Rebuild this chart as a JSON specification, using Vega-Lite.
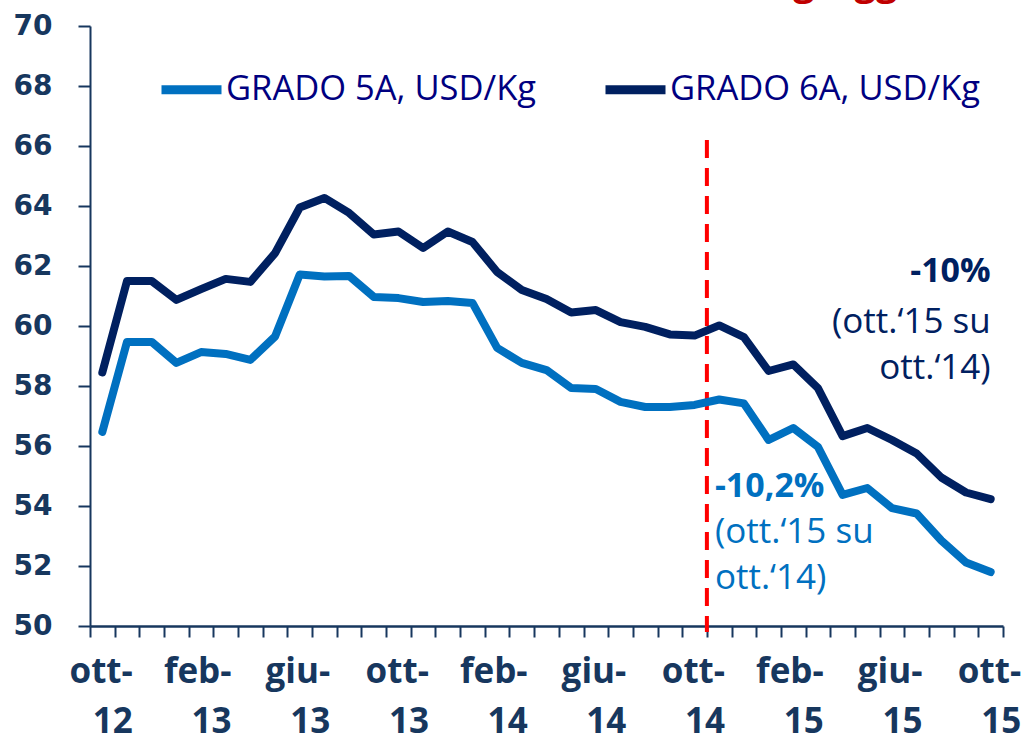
{
  "$schema": "https://vega.github.io/schema/vega-lite/v6.json",
  "width": 913,
  "height": 600,
  "autosize": {"type": "none"},
  "padding": {"left": 90, "top": 26, "right": 23, "bottom": 116},
  "background": "white",
  "config": {"view": {"stroke": null}},
  "datasets": {
    "prices": [
      {"m": "ott-12", "s": "GRADO 5A, USD/Kg", "v": 56.47},
      {"m": "nov-12", "s": "GRADO 5A, USD/Kg", "v": 59.47},
      {"m": "dic-12", "s": "GRADO 5A, USD/Kg", "v": 59.47},
      {"m": "gen-13", "s": "GRADO 5A, USD/Kg", "v": 58.77},
      {"m": "feb-13", "s": "GRADO 5A, USD/Kg", "v": 59.13},
      {"m": "mar-13", "s": "GRADO 5A, USD/Kg", "v": 59.07},
      {"m": "apr-13", "s": "GRADO 5A, USD/Kg", "v": 58.87},
      {"m": "mag-13", "s": "GRADO 5A, USD/Kg", "v": 59.65},
      {"m": "giu-13", "s": "GRADO 5A, USD/Kg", "v": 61.72},
      {"m": "lug-13", "s": "GRADO 5A, USD/Kg", "v": 61.65},
      {"m": "ago-13", "s": "GRADO 5A, USD/Kg", "v": 61.67},
      {"m": "set-13", "s": "GRADO 5A, USD/Kg", "v": 60.97},
      {"m": "ott-13", "s": "GRADO 5A, USD/Kg", "v": 60.93},
      {"m": "nov-13", "s": "GRADO 5A, USD/Kg", "v": 60.8},
      {"m": "dic-13", "s": "GRADO 5A, USD/Kg", "v": 60.83},
      {"m": "gen-14", "s": "GRADO 5A, USD/Kg", "v": 60.77},
      {"m": "feb-14", "s": "GRADO 5A, USD/Kg", "v": 59.27},
      {"m": "mar-14", "s": "GRADO 5A, USD/Kg", "v": 58.77},
      {"m": "apr-14", "s": "GRADO 5A, USD/Kg", "v": 58.53},
      {"m": "mag-14", "s": "GRADO 5A, USD/Kg", "v": 57.93},
      {"m": "giu-14", "s": "GRADO 5A, USD/Kg", "v": 57.9},
      {"m": "lug-14", "s": "GRADO 5A, USD/Kg", "v": 57.47},
      {"m": "ago-14", "s": "GRADO 5A, USD/Kg", "v": 57.3},
      {"m": "set-14", "s": "GRADO 5A, USD/Kg", "v": 57.3},
      {"m": "ott-14", "s": "GRADO 5A, USD/Kg", "v": 57.37},
      {"m": "nov-14", "s": "GRADO 5A, USD/Kg", "v": 57.55},
      {"m": "dic-14", "s": "GRADO 5A, USD/Kg", "v": 57.42},
      {"m": "gen-15", "s": "GRADO 5A, USD/Kg", "v": 56.2},
      {"m": "feb-15", "s": "GRADO 5A, USD/Kg", "v": 56.6},
      {"m": "mar-15", "s": "GRADO 5A, USD/Kg", "v": 55.97},
      {"m": "apr-15", "s": "GRADO 5A, USD/Kg", "v": 54.37},
      {"m": "mag-15", "s": "GRADO 5A, USD/Kg", "v": 54.6},
      {"m": "giu-15", "s": "GRADO 5A, USD/Kg", "v": 53.93},
      {"m": "lug-15", "s": "GRADO 5A, USD/Kg", "v": 53.75},
      {"m": "ago-15", "s": "GRADO 5A, USD/Kg", "v": 52.85},
      {"m": "set-15", "s": "GRADO 5A, USD/Kg", "v": 52.12},
      {"m": "ott-15", "s": "GRADO 5A, USD/Kg", "v": 51.8},
      {"m": "ott-12", "s": "GRADO 6A, USD/Kg", "v": 58.45},
      {"m": "nov-12", "s": "GRADO 6A, USD/Kg", "v": 61.5},
      {"m": "dic-12", "s": "GRADO 6A, USD/Kg", "v": 61.5},
      {"m": "gen-13", "s": "GRADO 6A, USD/Kg", "v": 60.87},
      {"m": "feb-13", "s": "GRADO 6A, USD/Kg", "v": 61.23},
      {"m": "mar-13", "s": "GRADO 6A, USD/Kg", "v": 61.57},
      {"m": "apr-13", "s": "GRADO 6A, USD/Kg", "v": 61.47},
      {"m": "mag-13", "s": "GRADO 6A, USD/Kg", "v": 62.43},
      {"m": "giu-13", "s": "GRADO 6A, USD/Kg", "v": 63.95},
      {"m": "lug-13", "s": "GRADO 6A, USD/Kg", "v": 64.27},
      {"m": "ago-13", "s": "GRADO 6A, USD/Kg", "v": 63.77},
      {"m": "set-13", "s": "GRADO 6A, USD/Kg", "v": 63.05},
      {"m": "ott-13", "s": "GRADO 6A, USD/Kg", "v": 63.15},
      {"m": "nov-13", "s": "GRADO 6A, USD/Kg", "v": 62.6},
      {"m": "dic-13", "s": "GRADO 6A, USD/Kg", "v": 63.15},
      {"m": "gen-14", "s": "GRADO 6A, USD/Kg", "v": 62.8},
      {"m": "feb-14", "s": "GRADO 6A, USD/Kg", "v": 61.8},
      {"m": "mar-14", "s": "GRADO 6A, USD/Kg", "v": 61.2},
      {"m": "apr-14", "s": "GRADO 6A, USD/Kg", "v": 60.9},
      {"m": "mag-14", "s": "GRADO 6A, USD/Kg", "v": 60.45},
      {"m": "giu-14", "s": "GRADO 6A, USD/Kg", "v": 60.53},
      {"m": "lug-14", "s": "GRADO 6A, USD/Kg", "v": 60.13},
      {"m": "ago-14", "s": "GRADO 6A, USD/Kg", "v": 59.97},
      {"m": "set-14", "s": "GRADO 6A, USD/Kg", "v": 59.72},
      {"m": "ott-14", "s": "GRADO 6A, USD/Kg", "v": 59.68},
      {"m": "nov-14", "s": "GRADO 6A, USD/Kg", "v": 60.02},
      {"m": "dic-14", "s": "GRADO 6A, USD/Kg", "v": 59.63},
      {"m": "gen-15", "s": "GRADO 6A, USD/Kg", "v": 58.5},
      {"m": "feb-15", "s": "GRADO 6A, USD/Kg", "v": 58.72},
      {"m": "mar-15", "s": "GRADO 6A, USD/Kg", "v": 57.93},
      {"m": "apr-15", "s": "GRADO 6A, USD/Kg", "v": 56.33},
      {"m": "mag-15", "s": "GRADO 6A, USD/Kg", "v": 56.6},
      {"m": "giu-15", "s": "GRADO 6A, USD/Kg", "v": 56.2},
      {"m": "lug-15", "s": "GRADO 6A, USD/Kg", "v": 55.75},
      {"m": "ago-15", "s": "GRADO 6A, USD/Kg", "v": 54.95},
      {"m": "set-15", "s": "GRADO 6A, USD/Kg", "v": 54.45},
      {"m": "ott-15", "s": "GRADO 6A, USD/Kg", "v": 54.23}
    ]
  },
  "layer": [
    {
      "data": {"values": [{"m": "ott-14", "y": 66.2, "y2": 49.8}]},
      "mark": {"type": "rule", "color": "#FF0000", "strokeWidth": 4, "strokeDash": [18, 10], "clip": false},
      "encoding": {
        "x": {"field": "m", "type": "nominal", "bandPosition": 1},
        "y": {"field": "y", "type": "quantitative"},
        "y2": {"field": "y2"}
      }
    },
    {
      "data": {"name": "prices"},
      "mark": {"type": "line", "strokeWidth": 8, "strokeCap": "round", "strokeJoin": "round"},
      "encoding": {
        "x": {
          "field": "m", "type": "nominal", "bandPosition": 0.5,
          "scale": {
            "type": "band", "paddingInner": 0, "paddingOuter": 0,
            "domain": ["ott-12","nov-12","dic-12","gen-13","feb-13","mar-13","apr-13","mag-13","giu-13","lug-13","ago-13","set-13","ott-13","nov-13","dic-13","gen-14","feb-14","mar-14","apr-14","mag-14","giu-14","lug-14","ago-14","set-14","ott-14","nov-14","dic-14","gen-15","feb-15","mar-15","apr-15","mag-15","giu-15","lug-15","ago-15","set-15","ott-15"]
          },
          "axis": {
            "title": null,
            "labelAngle": 0,
            "labelOverlap": false,
            "labelOffset": 30,
            "labelExpr": "indexof(['ott-12','feb-13','giu-13','ott-13','feb-14','giu-14','ott-14','feb-15','giu-15','ott-15'], datum.value) >= 0 ? [substring(datum.value, 0, 4), substring(datum.value, 4)] : ''",
            "labelFont": "Open Sans",
            "labelFontWeight": "bold",
            "labelFontSize": 35,
            "labelLineHeight": 50,
            "labelColor": "#17375E",
            "labelPadding": 34,
            "tickBand": "extent",
            "tickSize": 11,
            "tickWidth": 2,
            "tickColor": "#17375E",
            "domainColor": "#17375E",
            "domainWidth": 2.5,
            "grid": false
          }
        },
        "y": {
          "field": "v", "type": "quantitative",
          "scale": {"domain": [50, 70], "nice": false, "zero": false},
          "axis": {
            "title": null,
            "values": [50, 52, 54, 56, 58, 60, 62, 64, 66, 68, 70],
            "labelFont": "DejaVu Sans",
            "labelFontWeight": "bold",
            "labelFontSize": 28,
            "labelColor": "#17375E",
            "labelPadding": 26,
            "tickSize": 12,
            "tickWidth": 2,
            "tickColor": "#17375E",
            "domainColor": "#17375E",
            "domainWidth": 2,
            "grid": false
          }
        },
        "color": {
          "field": "s", "type": "nominal",
          "scale": {"domain": ["GRADO 5A, USD/Kg", "GRADO 6A, USD/Kg"], "range": ["#0070C0", "#002060"]},
          "legend": {
            "title": null,
            "orient": "none",
            "direction": "horizontal",
            "legendX": 67,
            "legendY": 29,
            "padding": 0,
            "symbolType": "stroke",
            "symbolSize": 3600,
            "symbolStrokeWidth": 9,
            "labelFont": "Open Sans",
            "labelFontSize": 34.5,
            "labelColor": "#000080",
            "labelOffset": 0,
            "columnPadding": 50,
            "labelLimit": 400
          }
        }
      }
    },
    {
      "data": {"values": [{"m": "ott-15", "v": 61.8, "t": "-10%"}]},
      "mark": {"type": "text", "align": "right", "baseline": "middle", "font": "Open Sans", "fontWeight": "bold", "fontSize": 34, "color": "#002060"},
      "encoding": {
        "x": {"field": "m", "type": "nominal", "bandPosition": 0.5},
        "y": {"field": "v", "type": "quantitative"},
        "text": {"field": "t"}
      }
    },
    {
      "data": {"values": [{"m": "ott-15", "v": 60.13, "t": "(ott.‘15 su"}, {"m": "ott-15", "v": 58.6, "t": "ott.‘14)"}]},
      "mark": {"type": "text", "align": "right", "baseline": "middle", "font": "Open Sans", "fontSize": 35, "color": "#002060"},
      "encoding": {
        "x": {"field": "m", "type": "nominal", "bandPosition": 0.5},
        "y": {"field": "v", "type": "quantitative"},
        "text": {"field": "t"}
      }
    },
    {
      "data": {"values": [{"m": "nov-14", "v": 54.63, "t": "-10,2%"}]},
      "mark": {"type": "text", "align": "left", "baseline": "middle", "dx": 8, "font": "Open Sans", "fontWeight": "bold", "fontSize": 34, "color": "#0070C0"},
      "encoding": {
        "x": {"field": "m", "type": "nominal", "bandPosition": 0},
        "y": {"field": "v", "type": "quantitative"},
        "text": {"field": "t"}
      }
    },
    {
      "data": {"values": [{"m": "nov-14", "v": 53.13, "t": "(ott.‘15 su"}, {"m": "nov-14", "v": 51.6, "t": "ott.‘14)"}]},
      "mark": {"type": "text", "align": "left", "baseline": "middle", "dx": 8, "font": "Open Sans", "fontSize": 35, "color": "#0070C0"},
      "encoding": {
        "x": {"field": "m", "type": "nominal", "bandPosition": 0},
        "y": {"field": "v", "type": "quantitative"},
        "text": {"field": "t"}
      }
    },
    {
      "data": {"values": [{"m": "feb-15", "v": 71.02, "t": "greggia USD/Kg"}]},
      "mark": {"type": "text", "align": "left", "baseline": "alphabetic", "font": "Open Sans", "fontWeight": "bold", "fontSize": 38, "color": "#C00000"},
      "encoding": {
        "x": {"field": "m", "type": "nominal", "bandPosition": 0.5},
        "y": {"field": "v", "type": "quantitative"},
        "text": {"field": "t"}
      }
    }
  ]
}
